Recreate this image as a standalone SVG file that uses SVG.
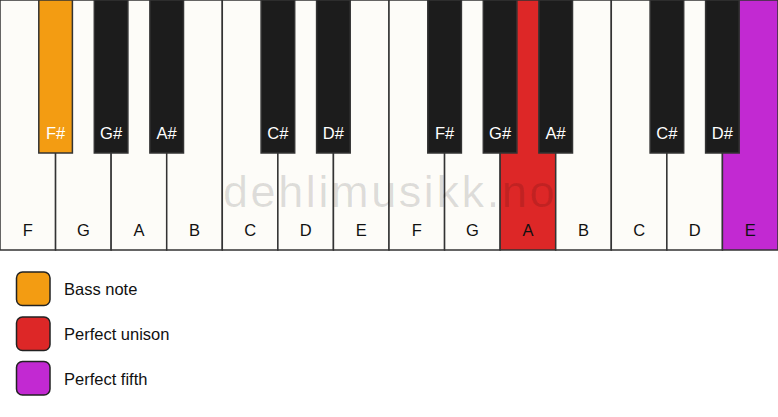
<svg xmlns="http://www.w3.org/2000/svg" width="778" height="417" viewBox="0 0 778 417">
<style>
.w{fill:#fdfcf8;stroke:#333;stroke-width:1.5}
.b{fill:#1c1c1c;stroke:#333;stroke-width:1.5}
.wl{font-family:"Liberation Sans",Arial,sans-serif;font-size:16.5px;fill:#111;text-anchor:middle}
.bl{font-family:"Liberation Sans",Arial,sans-serif;font-size:16.5px;fill:#fff;text-anchor:middle}
.lg{font-family:"Liberation Sans",Arial,sans-serif;font-size:16.5px;fill:#111}
.sw{stroke:#222;stroke-width:1.5}
.wm{font-family:"Liberation Sans",Arial,sans-serif;font-size:45px;fill:#000;fill-opacity:0.12;text-anchor:middle;letter-spacing:2.6px}
</style>
<rect width="778" height="417" fill="#ffffff"/>
<g id="white-keys">
<g id="wk-F1"><rect class="w" x="0" y="0" width="55.57" height="250"/><text class="wl" x="27.8" y="236">F</text></g>
<g id="wk-G1"><rect class="w" x="55.57" y="0" width="55.57" height="250"/><text class="wl" x="83.4" y="236">G</text></g>
<g id="wk-A1"><rect class="w" x="111.14" y="0" width="55.57" height="250"/><text class="wl" x="138.9" y="236">A</text></g>
<g id="wk-B1"><rect class="w" x="166.71" y="0" width="55.57" height="250"/><text class="wl" x="194.5" y="236">B</text></g>
<g id="wk-C1"><rect class="w" x="222.29" y="0" width="55.57" height="250"/><text class="wl" x="250.1" y="236">C</text></g>
<g id="wk-D1"><rect class="w" x="277.86" y="0" width="55.57" height="250"/><text class="wl" x="305.6" y="236">D</text></g>
<g id="wk-E1"><rect class="w" x="333.43" y="0" width="55.57" height="250"/><text class="wl" x="361.2" y="236">E</text></g>
<g id="wk-F2"><rect class="w" x="389" y="0" width="55.57" height="250"/><text class="wl" x="416.8" y="236">F</text></g>
<g id="wk-G2"><rect class="w" x="444.57" y="0" width="55.57" height="250"/><text class="wl" x="472.4" y="236">G</text></g>
<g id="wk-A2"><rect class="w" x="500.14" y="0" width="55.57" height="250" style="fill:#dd2727"/><text class="wl" x="527.9" y="236">A</text></g>
<g id="wk-B2"><rect class="w" x="555.71" y="0" width="55.57" height="250"/><text class="wl" x="583.5" y="236">B</text></g>
<g id="wk-C2"><rect class="w" x="611.29" y="0" width="55.57" height="250"/><text class="wl" x="639.1" y="236">C</text></g>
<g id="wk-D2"><rect class="w" x="666.86" y="0" width="55.57" height="250"/><text class="wl" x="694.6" y="236">D</text></g>
<g id="wk-E2"><rect class="w" x="722.43" y="0" width="55.57" height="250" style="fill:#c229d2"/><text class="wl" x="750.2" y="236">E</text></g>
</g>
<text class="wm" x="390" y="207">dehlimusikk.no</text>
<g id="black-keys">
<g id="bk-Fs1"><rect class="b" x="38.8" y="0" width="33.6" height="153" style="fill:#f39c12"/><text class="bl" x="55.6" y="139">F#</text></g>
<g id="bk-Gs1"><rect class="b" x="94.3" y="0" width="33.6" height="153"/><text class="bl" x="111.1" y="139">G#</text></g>
<g id="bk-As1"><rect class="b" x="149.9" y="0" width="33.6" height="153"/><text class="bl" x="166.7" y="139">A#</text></g>
<g id="bk-Cs1"><rect class="b" x="261.1" y="0" width="33.6" height="153"/><text class="bl" x="277.9" y="139">C#</text></g>
<g id="bk-Ds1"><rect class="b" x="316.6" y="0" width="33.6" height="153"/><text class="bl" x="333.4" y="139">D#</text></g>
<g id="bk-Fs2"><rect class="b" x="427.8" y="0" width="33.6" height="153"/><text class="bl" x="444.6" y="139">F#</text></g>
<g id="bk-Gs2"><rect class="b" x="483.3" y="0" width="33.6" height="153"/><text class="bl" x="500.1" y="139">G#</text></g>
<g id="bk-As2"><rect class="b" x="538.9" y="0" width="33.6" height="153"/><text class="bl" x="555.7" y="139">A#</text></g>
<g id="bk-Cs2"><rect class="b" x="650.1" y="0" width="33.6" height="153"/><text class="bl" x="666.9" y="139">C#</text></g>
<g id="bk-Ds2"><rect class="b" x="705.6" y="0" width="33.6" height="153"/><text class="bl" x="722.4" y="139">D#</text></g>
</g>
<g id="legend">
<g id="lg-bass"><rect class="sw" x="16.5" y="272" width="33.5" height="33.5" rx="6" fill="#f39c12"/><text class="lg" x="64" y="295">Bass note</text></g>
<g id="lg-unison"><rect class="sw" x="16.5" y="317" width="33.5" height="33.5" rx="6" fill="#dd2727"/><text class="lg" x="64" y="340">Perfect unison</text></g>
<g id="lg-fifth"><rect class="sw" x="16.5" y="361.5" width="33.5" height="33.5" rx="6" fill="#c229d2"/><text class="lg" x="64" y="385">Perfect fifth</text></g>
</g>
<g id="connectors"/>
</svg>
